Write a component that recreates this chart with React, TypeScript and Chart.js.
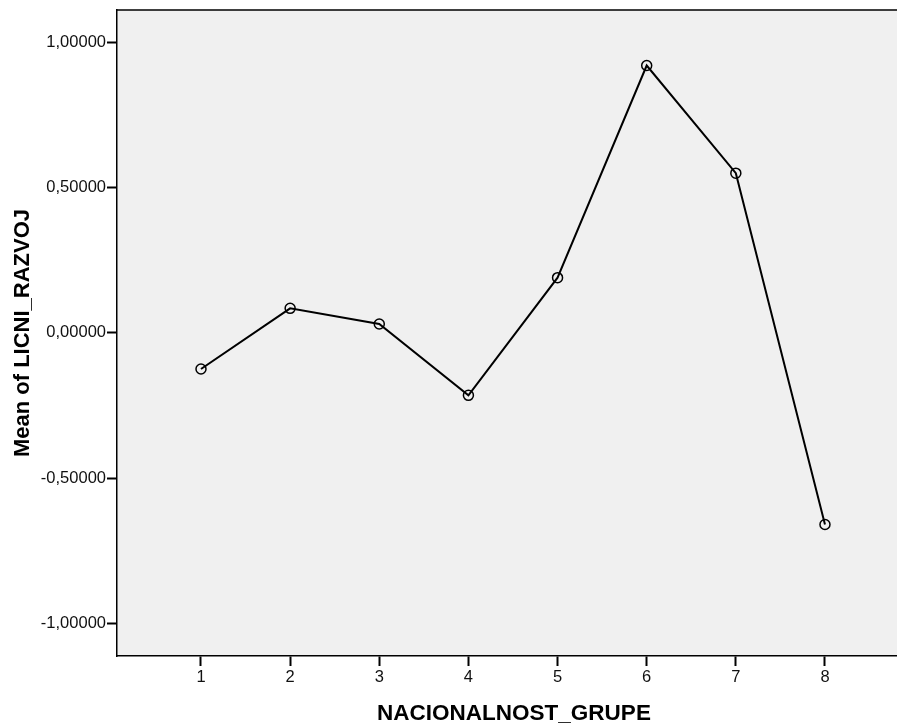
import React, { useEffect, useRef } from "react";
import { Chart, registerables } from "chart.js";

Chart.register(...registerables);

const CATEGORIES = ["1", "2", "3", "4", "5", "6", "7", "8"];
const MEANS = [-0.1245, 0.0843, 0.0303, -0.215, 0.19, 0.92, 0.5495, -0.6596];
const Y_TICKS = [-1, -0.5, 0, 0.5, 1];
const X_TITLE = "NACIONALNOST_GRUPE";
const Y_TITLE = "Mean of LICNI_RAZVOJ";

const FONT = "'Liberation Sans', Arial, Helvetica, sans-serif";

const framePlugin = {
  id: "frame",
  beforeDraw(chart: any) {
    const { ctx, chartArea } = chart;
    ctx.save();
    ctx.fillStyle = "#f0f0f0";
    ctx.fillRect(chartArea.left, chartArea.top, chartArea.right - chartArea.left, chartArea.bottom - chartArea.top);
    ctx.restore();
  },
  afterDraw(chart: any) {
    const { ctx, chartArea } = chart;
    ctx.save();
    ctx.strokeStyle = "#000";
    ctx.lineWidth = 1.5;
    ctx.beginPath();
    ctx.moveTo(chartArea.left, chartArea.top);
    ctx.lineTo(chartArea.right, chartArea.top);
    ctx.stroke();
    ctx.fillStyle = "#000";
    ctx.font = `bold 22.5px ${FONT}`;
    ctx.textAlign = "center";
    ctx.textBaseline = "middle";
    ctx.fillText(X_TITLE, 514, 714);
    ctx.font = `bold 22px ${FONT}`;
    ctx.translate(23, (chartArea.top + chartArea.bottom) / 2);
    ctx.rotate(-Math.PI / 2);
    ctx.fillText(Y_TITLE, 0, 0);
    ctx.restore();
  },
};

export default function App() {
  const ref = useRef<HTMLCanvasElement | null>(null);
  useEffect(() => {
    if (!ref.current) return;
    const chart = new Chart(ref.current, {
      type: "line",
      data: {
        datasets: [
          {
            data: MEANS.map((v, i) => ({ x: i + 1, y: v })),
            borderColor: "#000",
            borderWidth: 2,
            pointRadius: 5,
            pointBorderWidth: 1.5,
            pointBorderColor: "#000",
            pointBackgroundColor: "rgba(0,0,0,0)",
            pointHoverRadius: 5,
            tension: 0,
            fill: false,
            clip: false,
          },
        ],
      },
      options: {
        responsive: false,
        animation: false,
        events: [],
        layout: { autoPadding: false, padding: { top: 10, right: 0, left: 0, bottom: 0 } },
        plugins: { legend: { display: false }, tooltip: { enabled: false } },
        scales: {
          x: {
            type: "linear",
            min: 0.0577,
            max: 8.808,
            afterFit: (s: any) => {
              s.height = 70;
              s.paddingLeft = 0;
              s.paddingRight = 0;
            },
            afterBuildTicks: (s: any) => {
              s.ticks = CATEGORIES.map((_, i) => ({ value: i + 1 }));
            },
            ticks: {
              autoSkip: false,
              maxRotation: 0,
              padding: 2,
              color: "#111",
              font: { family: FONT, size: 16.5 },
              callback: (v: any) => CATEGORIES[Number(v) - 1] ?? "",
            },
            grid: {
              drawOnChartArea: false,
              drawTicks: true,
              tickLength: 10,
              tickWidth: 2,
              tickColor: "#000",
              color: "#000",
            },
            border: { display: true, color: "#000", width: 1.5 },
          },
          y: {
            type: "linear",
            min: -1.112,
            max: 1.111,
            afterFit: (s: any) => {
              s.width = 117;
              s.paddingTop = 0;
              s.paddingBottom = 0;
            },
            afterBuildTicks: (s: any) => {
              s.ticks = Y_TICKS.map((v) => ({ value: v }));
            },
            ticks: {
              padding: 1,
              color: "#111",
              font: { family: FONT, size: 16.5 },
              callback: (v: any) => Number(v).toFixed(5).replace(".", ","),
            },
            grid: {
              drawOnChartArea: false,
              drawTicks: true,
              tickLength: 10,
              tickWidth: 2,
              tickColor: "#000",
              color: "#000",
            },
            border: { display: true, color: "#000", width: 1.5 },
          },
        },
      },
      plugins: [framePlugin],
    } as any);
    return () => chart.destroy();
  }, []);
  return (
    <div style={{ position: "absolute", left: 0, top: 0, width: 897, height: 726, background: "#fff", overflow: "hidden" }}>
      <canvas ref={ref} width={897} height={726} style={{ display: "block", width: 897, height: 726 }} />
    </div>
  );
}
